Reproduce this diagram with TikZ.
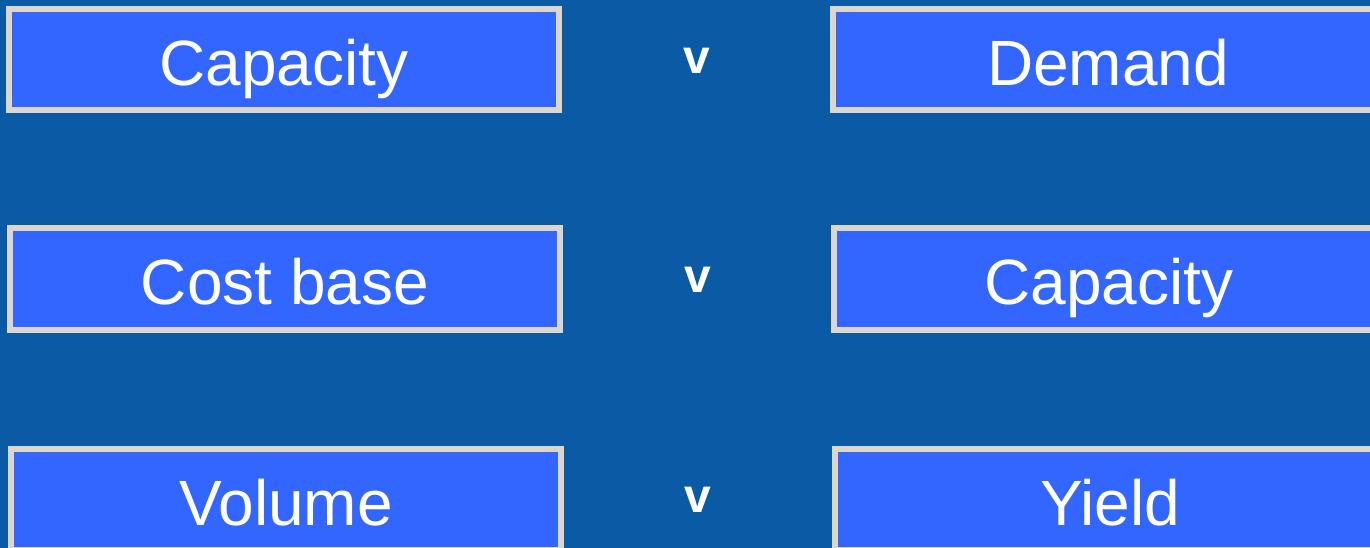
\documentclass[tikz,border=0pt]{standalone}
\usepackage{fontspec}
\setmainfont{Liberation Sans}
\definecolor{bgblue}{RGB}{10,90,165}
\definecolor{boxblue}{RGB}{51,102,255}
\definecolor{boxedge}{RGB}{221,214,204}
\begin{document}
\begin{tikzpicture}[x=1pt,y=-1pt,
  factor/.style={draw=boxedge,fill=boxblue,line width=6pt,rectangle,
    minimum width=550pt,minimum height=101.5pt,inner sep=0pt,text=white,
    text height=51pt,text depth=0pt,
    font=\fontsize{64}{76}\selectfont},
  versus/.style={text=white,inner sep=0pt,font=\bfseries\fontsize{48}{56}\selectfont}]
\fill[bgblue] (0,0) rectangle (1370,548);
\useasboundingbox (0,0) rectangle (1370,548);
\node[factor] (l1) at (284,59.75) {Capacity};
\node[factor] (r1) at (1108,59.75) {Demand};
\node[factor] (l2) at (285,279) {Cost base};
\node[factor] (r2) at (1109,279) {Capacity};
\node[factor] (l3) at (286,499.5) {Volume};
\node[factor] (r3) at (1110,499.5) {Yield};
\node[versus] (v1) at (697,61) {v};
\node[versus] (v2) at (698,280) {v};
\node[versus] (v3) at (698,500) {v};
\end{tikzpicture}
\end{document}
